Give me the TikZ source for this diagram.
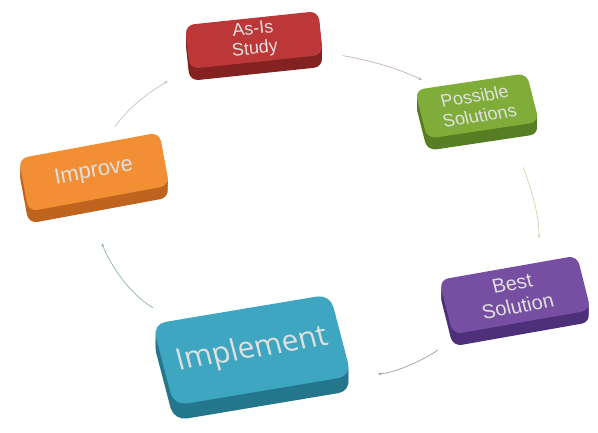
\documentclass[tikz,border=0pt]{standalone}
\usepackage{fontspec}
\setmainfont{Liberation Sans}
\newfontfamily\implfont{Open Sans}
\usetikzlibrary{shadows,arrows.meta}
\definecolor{asisface}{RGB}{188,56,56}
\definecolor{asisside}{RGB}{132,34,34}
\definecolor{possface}{RGB}{128,172,58}
\definecolor{possside}{RGB}{86,126,34}
\definecolor{bestface}{RGB}{118,78,162}
\definecolor{bestside}{RGB}{78,48,120}
\definecolor{implface}{RGB}{62,166,192}
\definecolor{implside}{RGB}{36,118,140}
\definecolor{imprface}{RGB}{242,142,52}
\definecolor{imprside}{RGB}{190,100,30}
\definecolor{asislink}{RGB}{196,176,186}
\definecolor{posslink}{RGB}{214,208,176}
\definecolor{bestlink}{RGB}{160,156,172}
\definecolor{impllink}{RGB}{140,178,184}
\definecolor{imprlink}{RGB}{204,194,188}
\tikzset{
  card/.style={rectangle, rounded corners=9pt, inner sep=0pt, align=center,
    text=white!88!black},
  side/.style={
    copy shadow={shadow xshift=0pt, shadow yshift=-3pt, fill=#1, draw=none},
    copy shadow={shadow xshift=0pt, shadow yshift=-6pt, fill=#1, draw=none},
    copy shadow={shadow xshift=0pt, shadow yshift=-9pt, fill=#1, draw=none},
    copy shadow={shadow xshift=0pt, shadow yshift=-12pt, fill=#1, draw=none}},
  deepside/.style={side=#1,
    copy shadow={shadow xshift=0pt, shadow yshift=-15pt, fill=#1, draw=none}},
  link/.style={->, line width=0.7pt, draw=#1}
}

\begin{document}
\begin{tikzpicture}[x=1pt, y=1pt, >={Stealth[length=3.5pt,width=3pt]}]
  \useasboundingbox[fill=white] (0,0) rectangle (598,433);

  \node[card, side=asisside, fill=asisface, rotate=6,
        minimum width=134pt, minimum height=44pt,
        font=\fontsize{18}{20}\selectfont] (asis) at (254,393) {As-Is\\Study};
  \node[card, side=possside, fill=possface, rotate=8.5, xslant=-0.1,
        minimum width=113pt, minimum height=50pt,
        font=\fontsize{18}{20}\selectfont] (possible) at (477,327) {Possible\\Solutions};
  \node[card, side=bestside, fill=bestface, rotate=10, xslant=-0.07,
        minimum width=140pt, minimum height=56pt,
        font=\fontsize{20}{23}\selectfont] (best) at (515,138) {Best\\Solution};
  \node[card, deepside=implside, fill=implface, rotate=9.5, xslant=-0.09,
        rounded corners=13pt, minimum width=180pt, minimum height=84pt,
        font=\implfont\fontsize{30}{30}\selectfont] (implement) at (252,83) {Implement};
  \node[card, side=imprside, fill=imprface, rotate=10.5,
        minimum width=143pt, minimum height=54pt,
        font=\fontsize{22}{22}\selectfont] (improve) at (94,261) {Improve};

  \draw[link=asislink, shorten <=20pt, shorten >=16pt]
    (asis.-16) to[out=-10, in=155] (possible.144);
  \draw[link=posslink, shorten <=43pt, shorten >=24pt]
    (possible.-42) to[out=-73, in=90] (best.42);
  \draw[link=bestlink, shorten <=30pt, shorten >=30pt]
    (best.205) to[out=215, in=5] (implement.-26);
  \draw[link=impllink, shorten <=25pt, shorten >=45pt]
    (implement.148) to[out=150, in=-70] (improve.245);
  \draw[link=imprlink, shorten <=19pt, shorten >=25pt]
    (improve.61) to[out=55, in=210] (asis.198);
\end{tikzpicture}
\end{document}
